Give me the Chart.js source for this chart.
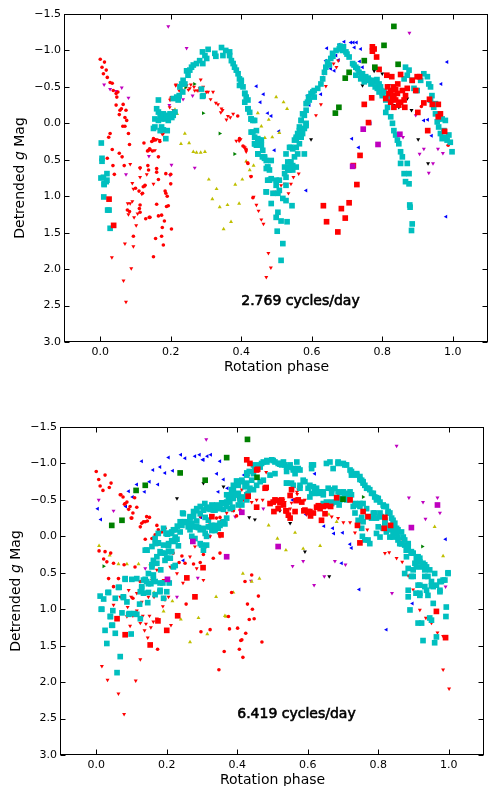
<!DOCTYPE html>
<html>
<head>
<meta charset="utf-8">
<script src="https://cdn.jsdelivr.net/npm/chart.js@4.4.1/dist/chart.umd.min.js"></script>
<style>
    html, body { margin: 0; padding: 0; background: #fff; overflow: hidden; width: 488px; height: 786px; }
    canvas { position: absolute; left: 0; }
    #top { top: 0; }
    #bottom { top: 400px; }
</style>
</head>
<body>
<canvas id="top" width="492" height="400"></canvas>
<canvas id="bottom" width="488" height="386"></canvas>
<script>
// axis ticks
const xTicks = [0, 0.2, 0.4, 0.6, 0.8, 1.0];
const yTicks = [-1.5, -1.0, -0.5, 0, 0.5, 1.0, 1.5, 2.0, 2.5, 3.0];

// ---- top panel: 2.769 cycles/day ----
const topCyan = [[0.003,0.27],[0.005,0.48],[0.005,0.52],[0.009,0.74],[0.019,0.69],[0.017,0.8],[0.011,0.83],[0.019,0.78],[0.011,0.84],[0.01,1.01],[0.021,1.19],[0.025,1.19],[0.028,1.44],[0.002,0.75],
    [0.306,-1.015],[0.344,-1.04],[0.356,-1.0],[0.367,-0.98],[0.367,-0.93],[0.29,-0.98],[0.297,-0.93],[0.302,-0.89],[0.325,-0.96],[0.328,-0.92],[0.348,-0.93],[0.282,-0.86],[0.273,-0.82],[0.291,-0.82],[0.259,-0.77],[0.264,-0.8],[0.254,-0.73],[0.245,-0.72],[0.249,-0.66],[0.235,-0.59],[0.231,-0.54],[0.24,-0.54],[0.226,-0.5],[0.234,-0.43],[0.224,-0.38],[0.217,-0.36],[0.207,-0.34],[0.221,-0.32],[0.165,-0.32],[0.16,-0.2],[0.165,-0.155],[0.17,-0.11],[0.179,-0.13],[0.188,-0.11],[0.198,-0.13],[0.203,-0.08],[0.207,-0.11],[0.174,-0.06],[0.155,-0.06],[0.165,-0.04],[0.184,-0.06],[0.193,-0.04],[0.212,-0.155],[0.155,0.05],[0.174,0.05],[0.151,0.07],[0.179,0.09],[0.19,0.1],[0.17,0.1],[0.186,0.21],[0.292,-0.38],[0.287,-0.47],[0.29,-0.37],
    [0.372,-0.86],[0.377,-0.82],[0.381,-0.77],[0.386,-0.73],[0.391,-0.68],[0.395,-0.61],[0.4,-0.57],[0.395,-0.52],[0.405,-0.5],[0.41,-0.41],[0.414,-0.36],[0.41,-0.29],[0.419,-0.32],[0.419,-0.2],[0.424,-0.15],[0.428,-0.06],[0.433,-0.04],[0.428,0.12],[0.438,0.19],[0.443,0.1],[0.447,0.21],[0.438,0.28],[0.443,0.3],[0.452,0.23],[0.457,0.3],[0.447,0.42],[0.461,0.37],[0.46,0.46],[0.466,0.48],[0.471,0.51],[0.475,0.6],[0.471,0.62],[0.48,0.64],[0.485,0.76],[0.475,0.78],[0.471,0.94],[0.485,1.1],[0.499,0.85],[0.499,1.29],[0.504,1.22],[0.513,1.34],[0.53,1.35],[0.502,1.48],[0.518,1.65],[0.513,1.88],[0.527,0.85],[0.532,0.64],[0.508,0.78],[0.504,0.96],[0.518,1.03],[0.527,1.06],[0.544,1.13],
    [0.523,0.69],[0.527,0.74],[0.537,0.6],[0.546,0.64],[0.541,0.53],[0.556,0.6],[0.532,0.53],[0.551,0.46],[0.556,0.33],[0.546,0.35],[0.56,0.42],[0.565,0.28],[0.57,0.19],[0.574,0.14],[0.556,0.21],[0.565,0.1],[0.579,0.07],[0.584,0.0],[0.57,-0.04],[0.579,-0.11],[0.584,-0.18],[0.588,-0.29],[0.591,-0.36],
    [0.593,-0.32],[0.598,-0.41],[0.607,-0.45],[0.617,-0.48],[0.626,-0.54],[0.631,-0.61],[0.636,-0.7],[0.64,-0.77],[0.645,-0.84],[0.654,-0.89],[0.659,-0.96],[0.669,-1.0],[0.678,-1.02],[0.687,-1.0],[0.697,-0.98],[0.706,-0.91],[0.716,-0.82],[0.725,-0.77],[0.734,-0.7],[0.744,-0.68],[0.739,-0.61],[0.753,-0.64],[0.763,-0.59],[0.772,-0.59],[0.782,-0.57],[0.791,-0.54],[0.786,-0.48],[0.796,-0.45],[0.8,-0.41],[0.81,-0.32],[0.815,-0.22],[0.81,-0.15],[0.824,-0.09],[0.829,0.0],[0.833,0.1],[0.838,0.16],[0.843,0.23],[0.847,0.28],[0.852,0.39],[0.857,0.46],[0.852,0.55],[0.871,0.55],[0.862,0.69],[0.876,0.69],[0.866,0.8],[0.876,0.83],[0.878,1.12],[0.879,1.15],[0.885,1.38],[0.883,1.47],
    [0.866,-0.77],[0.876,-0.73],[0.871,-0.66],[0.862,-0.61],[0.885,-0.59],[0.89,-0.48],[0.899,-0.45],[0.909,-0.59],[0.918,-0.68],[0.928,-0.64],[0.932,-0.54],[0.937,-0.5],[0.941,-0.38],[0.937,-0.32],[0.951,-0.27],[0.946,-0.22],[0.951,-0.13],[0.96,-0.06],[0.97,-0.06],[0.979,-0.04],[0.96,0.05],[0.975,0.1],[0.965,0.14],[0.979,0.19],[0.989,0.16],[0.984,0.23],[0.993,0.26],[0.998,0.39],[0.97,0.21],[0.956,-0.02],
    [0.725,-0.66],[0.749,-0.57],[0.768,-0.54],[0.791,-0.43],[0.8,-0.38],[0.815,-0.36],[0.75,-0.6],[0.76,-0.62],[0.77,-0.55],[0.78,-0.5],[0.785,-0.6],[0.795,-0.5],[0.805,-0.44],[0.74,-0.63],[0.73,-0.75],[0.72,-0.8],[0.7,-0.95],[0.69,-1.05],[0.68,-1.06],[0.66,-0.92],[0.65,-0.8],
    [0.4,-0.59],[0.41,-0.41],[0.419,-0.2],[0.428,-0.06],[0.438,-0.04],[0.433,0.12],[0.438,0.28],[0.447,0.42],[0.457,0.23],[0.466,0.46],[0.475,0.6],[0.485,0.51],[0.48,0.78],[0.471,0.94],[0.49,0.96],[0.499,0.78],[0.508,0.92],[0.523,0.6],[0.537,0.64],[0.546,0.58],[0.541,0.33],[0.551,0.23],[0.556,0.19],[0.565,0.05],[0.57,-0.04],[0.574,-0.13],[0.584,-0.27],[0.603,-0.43],[0.607,-0.36],[0.584,0.03],[0.56,0.14],[0.579,0.42],[0.537,0.33],[0.527,0.42]];
const topRedSq = [[0.025,1.04],[0.038,1.4],[0.772,-1.05],[0.777,-1.02],[0.772,-0.99],[0.784,-0.91],[0.791,-0.74],[0.813,-0.66],[0.827,-0.64],[0.852,-0.67],[0.844,-0.54],[0.832,-0.5],[0.838,-0.46],[0.824,-0.45],[0.815,-0.5],[0.819,-0.41],[0.833,-0.38],[0.843,-0.41],[0.857,-0.45],[0.866,-0.38],[0.862,-0.32],[0.852,-0.29],[0.838,-0.32],[0.829,-0.34],[0.81,-0.34],[0.824,-0.29],[0.833,-0.22],[0.847,-0.25],[0.864,-0.22],[0.871,-0.48],[0.885,-0.59],[0.899,-0.64],[0.895,-0.45],[0.918,-0.28],[0.934,-0.33],[0.942,-0.26],[0.959,-0.26],[0.965,-0.13],[0.959,-0.09],[0.929,0.1],[0.977,0.11],[0.77,-0.35],[0.749,-0.26],[0.761,-0.01],[0.737,0.44],[0.728,0.84],[0.718,0.58],[0.633,1.13],[0.684,1.17],[0.706,1.09],[0.642,1.35],[0.695,1.3],[0.674,1.49],[0.906,-0.64],[0.901,-0.15]];
const topGreenSq = [[0.833,-1.33],[0.805,-1.07],[0.749,-0.86],[0.779,-0.77],[0.845,-0.81],[0.706,-0.7],[0.695,-0.62],[0.677,-0.22],[0.667,-0.14]];
const topMagSq = [[0.746,0.08],[0.788,0.29],[0.85,0.15],[0.716,0.59]];
const topRedDot = [[0.0,-0.88],[0.012,-0.84],[0.005,-0.77],[0.017,-0.73],[0.009,-0.68],[0.02,-0.63],[0.028,-0.56],[0.034,-0.55],[0.037,-0.45],[0.045,-0.41],[0.05,-0.43],[0.047,-0.36],[0.045,-0.25],[0.056,-0.18],[0.06,-0.2],[0.065,-0.26],[0.073,-0.18],[0.054,-0.12],[0.07,-0.08],[0.064,0.04],[0.07,0.04],[0.075,-0.04],[0.08,0.14],[0.024,0.19],[0.028,0.14],[0.083,0.29],[0.034,0.36],[0.054,0.41],[0.062,0.46],[0.02,0.48],[0.036,0.58],[0.068,0.58],[0.04,0.7],[0.124,0.27],[0.137,0.37],[0.14,0.35],[0.16,0.62],[0.165,0.77],[0.186,0.69],[0.2,0.7],[0.2,0.83],[0.11,0.93],[0.1,0.89],[0.184,0.93],[0.186,0.96],[0.151,0.21],[0.155,0.23],[0.146,0.25],[0.169,0.25],[0.141,0.36],[0.148,0.38],[0.134,0.38],[0.165,0.46],[0.113,0.61],[0.135,0.58],[0.137,0.64],[0.16,0.67],[0.19,1.0],[0.16,1.11],[0.193,1.13],[0.188,1.14],[0.113,1.12],[0.113,1.22],[0.141,1.29],[0.129,1.31],[0.165,1.27],[0.174,1.26],[0.182,1.34],[0.202,1.45],[0.176,1.43],[0.174,1.55],[0.157,1.58],[0.179,1.67],[0.151,1.83],[0.111,1.17],[0.083,1.21],[0.094,1.55],[0.139,1.29],[0.077,1.19],[0.39,-0.1],[0.395,0.21],[0.405,0.31],[0.414,0.36],[0.419,0.55],[0.428,0.73],[0.433,1.02],[0.987,0.3],[0.911,-0.23],[0.12,0.96],[0.122,0.87],[0.127,0.85]];
const topRedTri = [[0.285,-0.6],[0.215,-0.53],[0.224,-0.45],[0.231,-0.46],[0.25,-0.46],[0.257,-0.53],[0.266,-0.5],[0.275,-0.45],[0.282,-0.48],[0.292,-0.5],[0.301,-0.43],[0.306,-0.43],[0.32,-0.43],[0.2,-0.34],[0.207,-0.36],[0.198,-0.32],[0.313,-0.33],[0.328,-0.28],[0.334,-0.26],[0.344,-0.2],[0.347,-0.18],[0.342,-0.15],[0.362,-0.1],[0.369,-0.08],[0.358,-0.05],[0.377,-0.13],[0.386,0.24],[0.394,0.24],[0.398,0.22],[0.407,0.32],[0.412,0.35],[0.417,0.54],[0.427,0.73],[0.435,1.01],[0.443,1.12],[0.449,1.2],[0.457,1.32],[0.463,1.38],[0.477,1.78],[0.484,1.98],[0.471,2.11],[0.184,-0.08],[0.176,0.15],[0.523,0.83],[0.541,0.83],[0.534,0.96],[0.563,0.69],[0.548,0.74],[0.492,0.96],[0.513,0.85],[0.091,0.82],[0.127,0.86],[0.094,0.9],[0.078,1.1],[0.085,1.1],[0.091,1.07],[0.096,1.29],[0.106,1.24],[0.118,0.97],[0.102,1.4],[0.08,1.25],[0.094,1.69],[0.07,1.65],[0.033,1.84],[0.088,1.99],[0.066,2.16],[0.073,2.45],[0.085,0.56],[0.113,0.74],[0.151,0.83],[0.132,0.7],[0.168,0.23],[0.16,0.22],[0.151,0.23],[0.155,0.37],[0.137,0.37],[0.113,0.62],[0.179,0.14],[0.197,-0.22],[0.207,-0.18],[0.202,-0.36],[0.214,-0.52],[0.226,-0.48],[0.245,-0.52],[0.254,-0.48],[0.268,-0.45],[0.28,-0.45],[0.576,0.06],[0.612,-0.11],[0.626,-0.26],[0.64,-0.51],[0.662,-0.82],[0.67,-0.77],[0.675,-0.86],[0.494,0.94],[0.41,0.33],[0.414,0.39]];
const topYellow = [[0.212,-0.19],[0.24,0.14],[0.252,0.27],[0.229,0.28],[0.264,0.39],[0.273,0.4],[0.285,0.4],[0.297,0.39],[0.308,0.77],[0.33,0.9],[0.318,1.04],[0.339,1.15],[0.361,1.12],[0.394,1.1],[0.371,1.35],[0.35,1.45],[0.383,0.84],[0.403,0.77],[0.414,0.52],[0.424,0.64],[0.435,0.58],[0.457,0.04],[0.447,-0.14],[0.467,0.2],[0.488,0.19],[0.478,-0.05],[0.499,-0.36],[0.52,-0.29],[0.53,-0.2],[0.508,0.13],[0.218,-0.13]];
const topBlue = [[0.643,-1.03],[0.678,-1.08],[0.692,-1.12],[0.711,-1.11],[0.718,-1.11],[0.727,-1.11],[0.721,-1.04],[0.739,-1.02],[0.669,-0.93],[0.676,-0.87],[0.64,-0.86],[0.654,-0.75],[0.664,-0.72],[0.631,-0.63],[0.626,-0.4],[0.598,-0.39],[0.593,-0.25],[0.584,0.05],[0.736,-0.85],[0.744,-0.77],[0.753,-0.26],[0.766,0.0],[0.714,0.21],[0.733,0.33],[0.584,0.92],[0.984,-0.84],[0.967,-0.54],[0.918,-0.04],[0.929,-0.05],[0.94,0.17],[0.981,1.28],[0.443,-0.51],[0.463,-0.4],[0.454,-0.29],[0.475,-0.14],[0.485,-0.1],[0.507,0.11],[0.494,0.37],[0.588,-0.38]];
const topBlack = [[0.777,-0.72],[0.8,-0.68],[0.744,-0.52],[0.819,-0.52],[0.857,-0.45],[0.871,-0.34],[0.833,-0.25],[0.847,-0.22],[0.883,-0.18],[0.902,0.22],[0.93,0.55],[0.598,0.22]];
const topMagTri = [[0.193,-1.33],[0.245,-1.03],[0.011,-0.53],[0.061,-0.49],[0.028,-0.47],[0.08,-0.35],[0.045,-0.44],[0.235,-0.33],[0.262,-0.38],[0.196,-0.25],[0.198,0.71],[0.138,0.45],[0.073,0.7],[0.268,0.61],[0.202,0.57],[0.009,1.01],[0.877,-1.24],[0.895,-0.11],[0.918,0.35],[0.958,0.35],[0.972,0.41],[0.906,0.42],[0.944,0.55],[0.932,0.68],[0.859,0.19]];
const topGreenTri = [[0.267,-0.54],[0.292,-0.14],[0.339,0.14],[0.381,0.42],[0.242,-0.49]];

// ---- bottom panel: 6.419 cycles/day ----
const botCyan = [[0.059,1.87],[0.068,1.65],[0.03,1.47],[0.054,1.33],[0.025,1.29],[0.044,1.22],[0.04,1.1],[0.016,1.0],[0.033,0.77],[0.047,1.02],[0.065,0.7],[0.077,0.84],[0.087,0.9],[0.073,1.05],[0.099,1.34],[0.082,0.58],[0.101,0.59],[0.094,1.06],[0.108,1.06],[0.123,0.93],[0.134,0.78],[0.129,0.71],[0.139,0.59],[0.148,0.65],[0.155,0.65],[0.162,0.59],[0.167,0.62],[0.181,0.76],[0.189,0.64],[0.183,0.46],[0.172,0.37],[0.162,0.33],[0.158,0.42],[0.148,0.51],[0.139,0.19],[0.144,0.19],[0.158,0.14],[0.167,0.1],[0.176,0.09],[0.181,0.21],[0.195,0.23],[0.2,0.3],[0.21,0.3],[0.219,0.42],[0.224,0.4],[0.214,0.21],[0.205,0.13],[0.214,0.06],[0.224,0.05],[0.229,0.04],[0.233,0.13],[0.202,-0.03],[0.214,-0.06],[0.224,-0.09],[0.23,-0.14],[0.238,-0.2],[0.247,-0.2],[0.245,-0.32],[0.257,-0.19],[0.261,-0.13],[0.266,-0.09],[0.276,-0.13],[0.285,-0.21],[0.271,0.0],[0.28,0.03],[0.295,-0.09],[0.29,-0.12],[0.304,-0.11],[0.309,-0.04],[0.313,0.0],[0.295,0.1],[0.323,-0.13],[0.332,-0.11],[0.342,-0.13],[0.346,-0.11],[0.328,-0.08],[0.337,-0.08],[0.313,0.12],
    [0.295,-0.41],[0.304,-0.36],[0.313,-0.4],[0.323,-0.37],[0.332,-0.36],[0.342,-0.39],[0.351,-0.38],[0.361,-0.37],[0.37,-0.41],[0.38,-0.38],[0.387,-0.4],[0.342,-0.43],[0.356,-0.46],[0.37,-0.47],[0.378,-0.53],[0.384,-0.57],[0.394,-0.57],[0.389,-0.64],[0.403,-0.59],[0.37,-0.57],[0.403,-0.7],[0.398,-0.76],[0.413,-0.77],[0.427,-0.73],[0.436,-0.66],[0.446,-0.64],[0.455,-0.7],[0.446,-0.86],[0.45,-0.93],[0.46,-0.98],[0.469,-1.0],[0.474,-1.02],[0.484,-1.02],[0.498,-1.05],[0.507,-1.02],[0.516,-1.0],[0.526,-0.98],[0.531,-1.02],[0.545,-0.95],[0.54,-0.73],[0.507,-0.86],[0.493,-0.84],[0.474,-0.77],[0.465,-0.75],[0.434,-0.89],[0.427,-0.87],[0.441,-0.77],[0.417,-0.54],[0.427,-0.5],[0.408,-0.5],[0.413,-0.43],[0.403,-0.43],[0.427,-0.57],[0.285,-0.35],[0.266,-0.27],[0.309,-0.26],[0.318,-0.22],[0.328,-0.15],[0.337,-0.15],[0.361,-0.2],[0.37,-0.25],[0.351,-0.18],[0.365,-0.17],[0.276,-0.27],[0.191,-0.11],[0.2,-0.04],[0.176,-0.04],[0.167,0.03],
    [0.521,-1.0],[0.535,-0.98],[0.55,-0.98],[0.559,-0.93],[0.573,-0.93],[0.54,-0.89],[0.564,-0.86],[0.578,-0.91],[0.587,-0.77],[0.578,-0.7],[0.554,-0.73],[0.592,-0.75],[0.606,-0.7],[0.616,-0.98],[0.611,-0.93],[0.653,-1.0],[0.663,-1.02],[0.672,-0.93],[0.686,-1.02],[0.701,-1.0],[0.71,-0.98],[0.72,-0.91],[0.724,-0.84],[0.739,-0.86],[0.748,-0.82],[0.753,-0.77],[0.757,-0.73],[0.762,-0.7],[0.767,-0.66],[0.776,-0.64],[0.781,-0.59],[0.79,-0.54],[0.8,-0.52],[0.795,-0.5],[0.805,-0.47],[0.814,-0.43],[0.823,-0.41],[0.828,-0.34],[0.833,-0.32],[0.842,-0.22],[0.847,-0.18],[0.842,-0.11],[0.856,-0.09],[0.852,-0.04],[0.866,-0.06],[0.871,0.01],[0.861,0.1],[0.875,0.12],[0.885,0.1],[0.88,0.19],[0.894,0.21],[0.899,0.23],[0.908,0.3],[0.913,0.28],[0.918,0.35],[0.908,0.42],[0.899,0.46],[0.927,0.37],[0.932,0.46],[0.937,0.42],[0.941,0.55],[0.946,0.46],[0.96,0.51],[0.951,0.62],[0.956,0.69],[0.965,0.67],[0.975,0.74],[0.979,0.62],[0.989,0.6],[0.998,0.51],[0.88,0.28],[0.885,0.44],[0.875,0.51],[0.894,0.55],[0.913,0.67],[0.932,0.69],[0.941,0.81],[0.918,0.81],[0.907,0.78],[0.885,0.83],[0.89,1.01],[0.913,1.19],[0.923,1.19],[0.927,1.43],[0.956,0.92],[0.946,1.12],[0.951,1.15],[0.965,1.38],[0.96,1.46],[0.993,0.97],[0.992,1.1],
    [0.616,-0.68],[0.625,-0.66],[0.635,-0.61],[0.644,-0.61],[0.658,-0.66],[0.668,-0.64],[0.677,-0.66],[0.686,-0.61],[0.701,-0.61],[0.71,-0.59],[0.72,-0.61],[0.715,-0.52],[0.724,-0.57],[0.739,-0.43],[0.748,-0.45],[0.757,-0.45],[0.734,-0.32],[0.753,-0.26],[0.743,-0.22],[0.757,-0.2],[0.771,-0.27],[0.781,-0.25],[0.79,-0.32],[0.795,-0.25],[0.805,-0.32],[0.809,-0.27],[0.819,-0.22],[0.8,-0.13],[0.814,-0.11],[0.823,-0.06],[0.838,-0.09],[0.847,-0.04],[0.833,0.01],[0.842,0.01],[0.856,0.05],[0.866,0.1],[0.805,0.01],[0.795,-0.04],[0.776,0.1],[0.771,0.05],[0.762,0.05],[0.755,0.0],[0.753,-0.11],[0.729,-0.41],[0.71,-0.5],[0.691,-0.52],[0.682,-0.47],[0.668,-0.47],[0.689,-0.43],[0.653,-0.47],[0.644,-0.57],[0.63,-0.59],[0.62,-0.59],[0.611,-0.59],
    [0.413,-0.75],[0.427,-0.84],[0.446,-0.98],[0.465,-0.95],[0.484,-1.04],[0.502,-1.04],[0.521,-0.99],[0.54,-0.95],[0.559,-0.91],[0.569,-1.02],[0.611,-0.98],[0.686,-1.0],[0.705,-0.98],[0.724,-0.89],[0.739,-0.84],[0.748,-0.78],[0.757,-0.75],[0.771,-0.66],[0.786,-0.59],[0.795,-0.53],[0.816,-0.41],[0.828,-0.32],[0.838,-0.25],[0.852,-0.11],[0.875,0.05],[0.885,0.14],[0.918,0.3],[0.932,0.39],[0.975,0.62],[0.984,0.6],[0.998,0.5],[0.975,0.76],[0.54,-0.73],[0.559,-0.7],[0.578,-0.66],[0.601,-0.66],[0.62,-0.64],[0.668,-0.59],[0.691,-0.6],[0.72,-0.57],[0.734,-0.45],[0.748,-0.41],[0.767,-0.38],[0.786,-0.32],[0.805,-0.27],[0.819,-0.18],[0.833,-0.11],[0.842,-0.06],[0.856,0.01],[0.866,0.1],[0.88,0.19],[0.894,0.23],[0.904,0.37],[0.923,0.42],[0.932,0.55],[0.899,0.55],[0.918,0.67],[0.937,0.74],[0.885,0.74],[0.918,0.78],[0.951,0.68],[0.606,-0.54],[0.644,-0.45],[0.668,-0.45],[0.691,-0.5],[0.705,-0.54],
    [0.011,0.82],[0.035,0.77],[0.063,0.7],[0.082,0.59],[0.115,0.58],[0.134,0.6],[0.129,0.69],[0.077,0.83],[0.125,0.76],[0.143,0.62],[0.162,0.53],[0.158,0.39],[0.172,0.28],[0.186,0.23],[0.195,0.33],[0.205,0.21],[0.205,0.1],[0.219,0.07],[0.191,0.12],[0.176,0.09],[0.143,0.19],[0.198,-0.04],[0.21,-0.04],[0.219,-0.09],[0.224,0.01],[0.238,-0.06],[0.243,-0.15],[0.247,-0.31],[0.252,-0.2],[0.262,-0.15],[0.266,-0.25],[0.276,-0.34],[0.285,-0.38],[0.295,-0.31],[0.304,-0.36],[0.308,-0.45],[0.313,-0.38],[0.328,-0.43],[0.337,-0.36],[0.346,-0.41],[0.356,-0.45],[0.379,-0.47],[0.375,-0.54],[0.389,-0.52],[0.398,-0.57],[0.408,-0.52],[0.384,-0.64],[0.389,-0.7],[0.422,-0.68],[0.431,-0.59],[0.271,-0.18],[0.285,-0.13],[0.318,-0.13],[0.351,-0.15],[0.299,0.12],[0.304,0.19],[0.148,0.77],[0.167,0.8],[0.181,0.74],[0.191,0.85],[0.2,0.76],[0.207,0.64],[0.181,0.64],[0.054,0.85],
    [0.014,1.0],[0.021,0.86],[0.04,1.1],[0.046,1.22],[0.092,1.07],[0.115,1.07],[0.125,1.13],[0.146,0.91]];
const botRedSq = [[0.427,-1.05],[0.436,-1.0],[0.458,-0.92],[0.482,-0.67],[0.431,-0.55],[0.455,-0.4],[0.502,-0.47],[0.512,-0.49],[0.521,-0.46],[0.531,-0.43],[0.526,-0.5],[0.54,-0.35],[0.545,-0.29],[0.504,-0.34],[0.493,-0.45],[0.328,-0.27],[0.354,-0.02],[0.303,0.43],[0.257,0.57],[0.28,0.83],[0.231,1.09],[0.175,1.16],[0.2,1.29],[0.153,1.49],[0.082,1.35],[0.059,1.13],[0.55,-0.56],[0.554,-0.64],[0.567,-0.49],[0.573,-0.5],[0.583,-0.47],[0.589,-0.35],[0.601,-0.34],[0.608,-0.28],[0.616,-0.32],[0.625,-0.4],[0.635,-0.38],[0.644,-0.41],[0.653,-0.42],[0.665,-0.41],[0.639,-0.22],[0.649,-0.31],[0.538,-0.35],[0.55,-0.25],[0.748,0.09],[0.771,-0.27],[0.741,-0.15],[0.819,-0.26],[0.835,-0.15],[0.965,1.03],[0.991,1.39],[0.757,-0.34],[0.455,-0.91],[0.479,-0.66],[0.516,-0.38],[0.507,-0.5],[0.564,-0.34],[0.592,-0.36],[0.606,-0.34],[0.63,-0.42],[0.682,-0.53],[0.72,-0.5],[0.817,-0.11]];
const botGreenSq = [[0.429,-1.33],[0.37,-1.08],[0.238,-0.87],[0.309,-0.77],[0.139,-0.7],[0.113,-0.63],[0.073,-0.22],[0.044,-0.15],[0.456,-0.81],[0.7,-0.51]];
const botMagSq = [[0.274,0.07],[0.37,0.28],[0.202,0.59],[0.413,-0.33],[0.516,0.14],[0.968,-0.43],[0.894,-0.12]];
const botRedDot = [[0.0,-0.89],[0.007,-0.78],[0.011,-0.69],[0.019,-0.63],[0.025,-0.84],[0.042,-0.73],[0.037,-0.67],[0.068,-0.57],[0.076,-0.54],[0.082,-0.45],[0.087,-0.47],[0.096,-0.41],[0.092,-0.37],[0.115,-0.4],[0.104,-0.32],[0.099,-0.25],[0.125,-0.13],[0.129,-0.18],[0.143,-0.27],[0.151,-0.26],[0.139,-0.2],[0.172,-0.15],[0.195,-0.11],[0.186,-0.06],[0.158,0.03],[0.139,0.04],[0.176,0.11],[0.2,0.14],[0.243,0.27],[0.218,0.23],[0.252,0.37],[0.235,0.36],[0.276,0.38],[0.295,0.36],[0.304,0.25],[0.332,0.3],[0.351,0.23],[0.384,0.77],[0.422,0.62],[0.441,0.53],[0.327,-0.26],[0.341,-0.25],[0.351,-0.26],[0.355,-0.21],[0.389,-0.35],[0.398,-0.28],[0.408,-0.36],[0.021,0.31],[0.025,0.21],[0.041,0.23],[0.008,0.2],[0.049,0.37],[0.03,0.35],[0.079,0.39],[0.11,0.42],[0.125,0.62],[0.063,0.58],[0.049,0.69],[0.104,0.85],[0.035,0.58],[0.174,1.55],[0.255,0.93],[0.297,1.31],[0.323,1.28],[0.363,1.58],[0.348,1.83],[0.378,1.27],[0.401,1.26],[0.41,1.43],[0.406,1.55],[0.416,1.66],[0.424,1.33],[0.429,0.93],[0.375,1.1],[0.413,1.42],[0.434,1.14],[0.448,1.13],[0.443,1.0],[0.46,0.82],[0.47,1.45],[0.101,-0.25],[0.134,-0.2],[0.145,-0.21],[0.176,-0.09],[0.167,-0.02],[0.162,0.03],[0.07,-0.57],[0.08,-0.44],[0.109,-0.53]];
const botRedTri = [[0.313,-0.25],[0.295,-0.27],[0.318,-0.2],[0.37,-0.32],[0.384,-0.36],[0.346,-0.04],[0.351,0.0],[0.323,0.0],[0.312,0.14],[0.28,0.14],[0.266,0.28],[0.285,0.44],[0.304,0.6],[0.229,0.51],[0.246,0.64],[0.21,0.42],[0.172,0.46],[0.191,0.6],[0.158,0.6],[0.148,0.83],[0.115,0.78],[0.092,0.74],[0.049,0.94],[0.099,0.83],[0.087,1.1],[0.104,1.09],[0.115,1.02],[0.129,0.9],[0.132,1.09],[0.125,1.19],[0.141,1.2],[0.151,1.09],[0.155,1.25],[0.164,0.83],[0.162,1.17],[0.137,1.29],[0.146,1.39],[0.172,1.13],[0.189,0.96],[0.195,0.87],[0.205,0.83],[0.212,1.22],[0.096,1.23],[0.125,1.69],[0.016,1.78],[0.032,1.97],[0.063,2.16],[0.079,2.44],[0.112,1.98],[0.089,0.97],[0.068,0.83],[0.918,1.01],[0.935,1.12],[0.951,1.19],[0.968,1.32],[0.984,1.37],[0.984,1.83],[1.001,2.09],[0.554,-0.46],[0.569,-0.61],[0.597,-0.3],[0.668,-0.27],[0.686,-0.25],[0.701,-0.19],[0.72,-0.19],[0.734,-0.05],[0.753,-0.1],[0.769,-0.09],[0.819,0.23],[0.831,0.22],[0.852,0.3],[0.869,0.05],[0.885,0.54],[0.868,0.35],[0.899,0.73],[0.996,0.49],[0.417,-0.5],[0.441,-0.47],[0.455,-0.5],[0.472,-0.5],[0.493,-0.45],[0.531,-0.5],[0.55,-0.38],[0.57,-0.58],[0.573,-0.64],[0.592,-0.5],[0.482,-0.88],[0.431,-0.83],[0.413,-0.64],[0.535,-0.47]];
const botYellow = [[0.008,0.13],[0.038,0.26],[0.063,0.38],[0.087,0.38],[0.12,0.38],[0.153,0.38],[0.164,0.77],[0.389,0.77],[0.416,0.51],[0.191,1.03],[0.216,0.89],[0.24,1.14],[0.29,1.12],[0.266,1.45],[0.315,1.34],[0.34,0.83],[0.365,1.09],[0.368,1.1],[0.441,0.62],[0.463,0.58],[0.489,-0.15],[0.514,0.03],[0.538,0.19],[0.564,-0.05],[0.587,0.17],[0.635,0.13],[0.682,-0.2],[0.66,-0.3],[0.96,-0.13],[0.984,0.27]];
const botBlue = [[0.129,-1.03],[0.205,-1.08],[0.24,-1.12],[0.252,-1.07],[0.28,-1.1],[0.293,-1.12],[0.302,-1.05],[0.315,-1.1],[0.325,-1.12],[0.351,-1.03],[0.181,-0.95],[0.161,-0.91],[0.195,-0.87],[0.217,-0.9],[0.151,-0.75],[0.115,-0.71],[0.137,-0.61],[0.092,-0.62],[0.103,-0.54],[0.084,-0.41],[0.004,-0.38],[0.013,-0.23],[0.175,-0.71],[0.342,-0.86],[0.361,-0.78],[0.346,-0.61],[0.378,-0.54],[0.419,-0.84],[0.297,-0.26],[0.321,0.0],[0.247,0.33],[0.304,-1.05],[0.372,-0.66],[0.62,-0.86],[0.595,-0.3],[0.646,-0.14],[0.671,-0.11],[0.674,-0.04],[0.699,-0.05],[0.72,0.11],[0.724,0.16],[0.696,0.37],[0.746,0.73],[0.823,1.28],[0.897,0.92],[0.991,0.04],[0.557,-0.5]];
const botBlack = [[0.304,-0.73],[0.361,-0.68],[0.229,-0.52],[0.403,-0.52],[0.434,-0.26],[0.45,-0.23],[0.521,-0.35],[0.493,-0.46],[0.55,-0.18],[0.592,0.21],[0.661,0.55],[0.89,0.21]];
const botMagTri = [[0.312,-1.33],[0.007,-0.5],[0.049,-0.35],[0.394,-0.27],[0.229,0.83],[0.288,0.57],[0.139,0.44],[0.474,-0.38],[0.439,0.61],[0.852,-1.24],[0.887,-0.53],[0.927,-0.47],[0.968,-0.53],[0.975,-0.32],[0.934,-0.24],[0.557,0.41],[0.587,0.34],[0.677,0.34],[0.707,0.39],[0.647,0.55],[0.618,0.67],[0.839,0.78],[0.991,0.69]];
const botGreenTri = [[0.021,0.41],[0.757,-0.54],[0.925,0.14],[0.814,-0.17]];

const FONT = 'DejaVu Sans';
const fmt = v => (v < 0 ? '\u2212' : '') + Math.abs(v).toFixed(1);

function series(points, color, style, radius, rotation, order) {
    return {
        data: points.map(([x, y]) => ({ x, y })),
        pointStyle: style,
        pointRadius: radius,
        pointRotation: rotation,
        backgroundColor: color,
        borderColor: color,
        borderWidth: 0,
        order: order
    };
}

function datasets(s) {
    return [
        series(s.magSq, '#BF00BF', 'rect', 4, 0, 1),
        series(s.greenSq, '#008000', 'rect', 4, 0, 1),
        series(s.redSq, '#FF0000', 'rect', 4, 0, 1),
        series(s.cyan, '#00BFBF', 'rect', 4, 0, 2),
        series(s.redDot, '#FF0000', 'circle', 1.8, 0, 3),
        series(s.redTri, '#FF0000', 'triangle', 2.3, 180, 3),
        series(s.yellow, '#BFBF00', 'triangle', 2.3, 0, 3),
        series(s.blue, '#0000FF', 'triangle', 2.3, 270, 3),
        series(s.black, '#000000', 'triangle', 2.3, 180, 3),
        series(s.magTri, '#BF00BF', 'triangle', 2.3, 180, 3),
        series(s.greenTri, '#008000', 'triangle', 2.3, 90, 3)
    ];
}

// frame, inward ticks, axis titles and the frequency note
const framePlugin = {
    id: 'frame',
    afterDraw(chart, args, o) {
        const { ctx, chartArea: a, scales: { x, y } } = chart;
        ctx.save();
        ctx.strokeStyle = '#000';
        ctx.lineWidth = 1;
        const L = Math.round(a.left) - 0.5, R = Math.round(a.right) - 0.5;
        const T = Math.round(a.top) + 0.5, B = Math.round(a.bottom) - 0.5;
        ctx.strokeRect(L, T, R - L, B - T);
        ctx.beginPath();
        xTicks.forEach(v => {
            const p = Math.round(x.getPixelForValue(v)) + 0.5;
            ctx.moveTo(p, B); ctx.lineTo(p, B - 5);
            ctx.moveTo(p, T); ctx.lineTo(p, T + 5);
        });
        yTicks.forEach(v => {
            const p = Math.round(y.getPixelForValue(v)) + 0.5;
            ctx.moveTo(L, p); ctx.lineTo(L + 5, p);
            ctx.moveTo(R, p); ctx.lineTo(R - 5, p);
        });
        ctx.stroke();

        ctx.fillStyle = '#000';
        ctx.textBaseline = 'middle';
        // note
        ctx.font = `14px ${FONT}`;
        ctx.textAlign = 'left';
        const nx = x.getPixelForValue(o.noteX), ny = y.getPixelForValue(o.noteY);
        ctx.lineWidth = 0.6;
        ctx.strokeText(o.note, nx, ny);
        ctx.fillText(o.note, nx, ny);
        // x title
        ctx.textAlign = 'center';
        ctx.fillText('Rotation phase', (a.left + a.right) / 2, a.bottom + 25);
        // y title with italic g
        const parts = [['Detrended ', `14px ${FONT}`], ['g', `italic 14px ${FONT}`], [' Mag', `14px ${FONT}`]];
        let total = 0;
        parts.forEach(p => { ctx.font = p[1]; total += ctx.measureText(p[0]).width; });
        ctx.translate(a.left - 45, (a.top + a.bottom) / 2);
        ctx.rotate(-Math.PI / 2);
        ctx.textAlign = 'left';
        let cx = -total / 2;
        parts.forEach(p => { ctx.font = p[1]; ctx.fillText(p[0], cx, 0); cx += ctx.measureText(p[0]).width; });
        ctx.restore();
    }
};

function makeChart(id, sets, o) {
    return new Chart(document.getElementById(id), {
        type: 'scatter',
        data: { datasets: sets },
        options: {
            responsive: false,
            animation: false,
            events: [],
            layout: { padding: o.pad },
            plugins: { legend: { display: false }, tooltip: { enabled: false }, frame: o },
            scales: {
                x: {
                    type: 'linear', min: -0.1, max: 1.1,
                    afterBuildTicks: s => { s.ticks = xTicks.map(v => ({ value: v })); },
                    afterFit: s => { s.height = o.xh; },
                    grid: { display: false, drawTicks: false },
                    border: { display: false },
                    ticks: { color: '#000', font: { family: FONT, size: 11 }, padding: 4, maxRotation: 0, callback: v => fmt(v) }
                },
                y: {
                    type: 'linear', min: -1.5, max: 3.0, reverse: true,
                    afterBuildTicks: s => { s.ticks = yTicks.map(v => ({ value: v })); },
                    afterFit: s => { s.width = o.yw; },
                    grid: { display: false, drawTicks: false },
                    border: { display: false },
                    ticks: { color: '#000', font: { family: FONT, size: 11 }, padding: 4, callback: v => fmt(v) }
                }
            }
        },
        plugins: [framePlugin]
    });
}

makeChart('top', datasets({
    cyan: topCyan, redSq: topRedSq, greenSq: topGreenSq, magSq: topMagSq,
    redDot: topRedDot, redTri: topRedTri, yellow: topYellow, blue: topBlue,
    black: topBlack, magTri: topMagTri, greenTri: topGreenTri
}), { pad: { top: 14, right: 3, left: 0, bottom: 0 }, yw: 65, xh: 58, note: '2.769 cycles/day', noteX: 0.4, noteY: 2.44 });

makeChart('bottom', datasets({
    cyan: botCyan, redSq: botRedSq, greenSq: botGreenSq, magSq: botMagSq,
    redDot: botRedDot, redTri: botRedTri, yellow: botYellow, blue: botBlue,
    black: botBlack, magTri: botMagTri, greenTri: botGreenTri
}), { pad: { top: 27, right: 3, left: 0, bottom: 0 }, yw: 61, xh: 31, note: '6.419 cycles/day', noteX: 0.4, noteY: 2.44 });
</script>
</body>
</html>
